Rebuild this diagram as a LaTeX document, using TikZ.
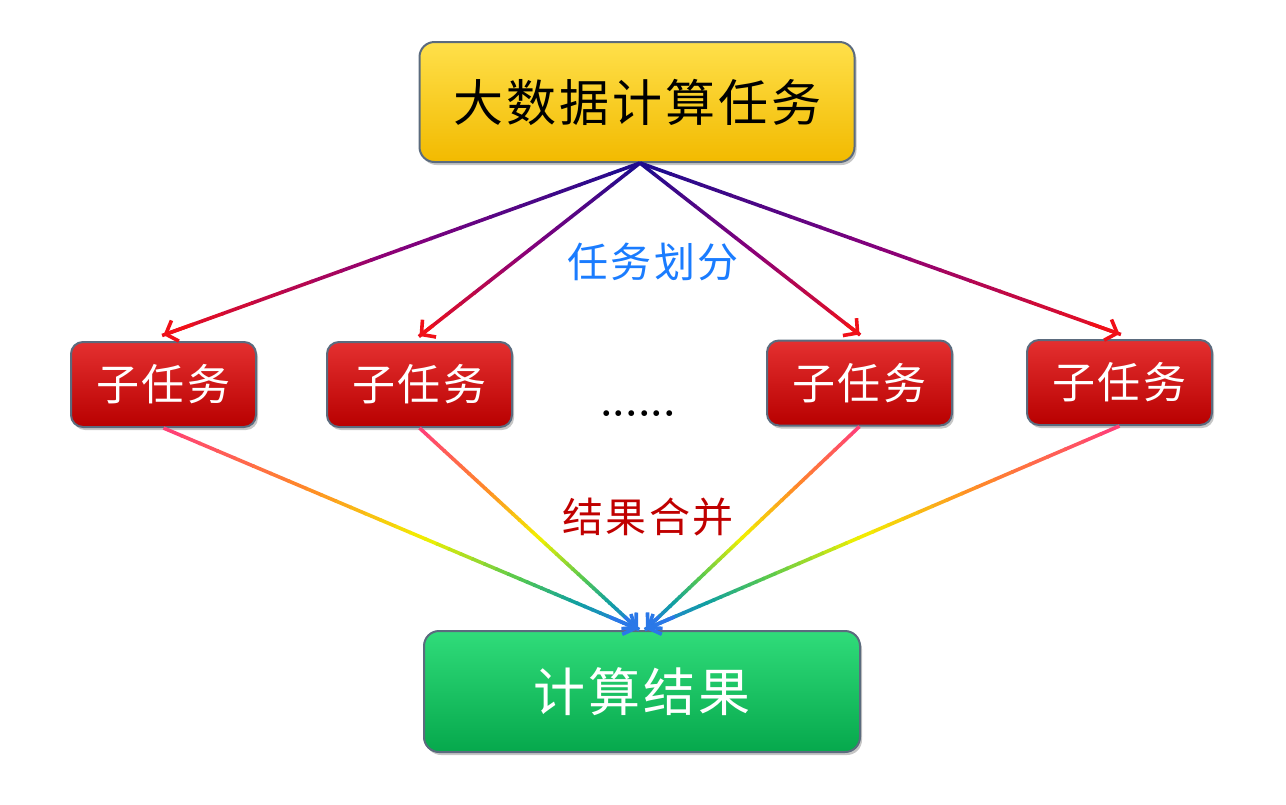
\documentclass[tikz,border=0pt]{standalone}
\usepackage{fontspec}
\newfontfamily\cjk{Noto Sans CJK SC}[LetterSpace=6]
\usetikzlibrary{calc,shadows,arrows.meta}
\definecolor{bordc}{HTML}{5B6B7E}
\definecolor{yelA}{HTML}{FFE04A}
\definecolor{yelB}{HTML}{FFCC00}
\definecolor{yelC}{HTML}{F2BA00}
\definecolor{redA}{HTML}{E43030}
\definecolor{redB}{HTML}{CC0000}
\definecolor{redC}{HTML}{B80000}
\definecolor{grnA}{HTML}{30DC7A}
\definecolor{grnB}{HTML}{08BB55}
\definecolor{grnC}{HTML}{06A84C}
\definecolor{navy}{HTML}{1A0C8E}
\definecolor{purp}{HTML}{86007C}
\definecolor{rred}{HTML}{F01018}
\definecolor{cpink}{HTML}{FF3C7A}
\definecolor{corng}{HTML}{FF8A28}
\definecolor{cyell}{HTML}{F2F000}
\definecolor{cgrn}{HTML}{55C850}
\definecolor{cteal}{HTML}{10A0A0}
\definecolor{cblue}{HTML}{2A78E8}
\definecolor{lblue}{HTML}{1A7CFF}
\definecolor{lred}{HTML}{C00000}
\newcommand\gradarrow[4]{%
  \foreach \a/\b/\ca/\cb in {#3}{%
    \foreach \i in {0,...,7}{%
      \pgfmathsetmacro\pa{\a+(\b-\a)*\i/8}%
      \pgfmathsetmacro\pb{\a+(\b-\a)*(\i+1)/8+0.003}%
      \pgfmathtruncatemacro\mx{100-\i*100/8-6}%
      \draw[gradseg, color=\ca!\mx!\cb] ($(#1)!\pa!(#2)$) -- ($(#1)!\pb!(#2)$);
    }%
  }%
  \draw[tipline, color=#4] ($(#1)!0.94!(#2)$) -- (#2);
}
\begin{document}
\begin{tikzpicture}[x=1pt,y=-1pt,
  box/.style={draw=bordc, line width=2pt, rounded corners=15pt,
    drop shadow={shadow xshift=2pt, shadow yshift=-3pt, opacity=0.45}},
  topbox/.style={box, top color=yelA, middle color=yelB, bottom color=yelC,
    minimum width=435pt, minimum height=120pt, font=\cjk\fontsize{50}{54}\selectfont, text=black},
  subbox/.style={box, rounded corners=12pt, top color=redA, middle color=redB, bottom color=redC,
    minimum width=185pt, minimum height=85pt, font=\cjk\fontsize{43}{46}\selectfont, text=white},
  resbox/.style={box, top color=grnA, middle color=grnB, bottom color=grnC,
    minimum width=436pt, minimum height=121pt, font=\cjk\fontsize{52}{56}\selectfont, text=white},
  lbl/.style={font=\cjk\fontsize{41}{44}\selectfont},
  gradseg/.style={line width=3.6pt},
  tipline/.style={line width=3.6pt, -{Straight Barb[length=10pt,width=22pt]}}
]
\useasboundingbox (0,0) rectangle (1286,804);

\node[topbox] (top) at (637,102) {大数据计算任务};
\node[subbox] (s1) at (163.5,384.5) {子任务};
\node[subbox] (s2) at (419.5,384.5) {子任务};
\node[subbox] (s3) at (859.5,383) {子任务};
\node[subbox] (s4) at (1119.5,382.5) {子任务};
\node[resbox] (res) at (642,691.5) {计算结果};

\node[lbl, text=lblue] (lab1) at (653,262) {任务划分};
\node[lbl, text=lred] (lab2) at (648,517) {结果合并};
\node[font=\bfseries\fontsize{40}{42}\selectfont, anchor=base, inner sep=0pt] (dots) at (638,416) {......};

\coordinate (st) at ([xshift=3pt]top.south);
\coordinate (e1) at ([yshift=6pt]s1.north);
\coordinate (e2) at ([yshift=5pt]s2.north);
\coordinate (e3) at ([yshift=5pt]s3.north);
\coordinate (e4) at ([yshift=5pt]s4.north);
\coordinate (rl) at ([xshift=-4pt,yshift=1pt]res.north);
\coordinate (rr) at ([xshift=4pt,yshift=1pt]res.north);

\foreach \e in {e1,e2,e3,e4}{
  \gradarrow{st}{\e}{0/0.5/navy/purp, 0.5/1/purp/rred}{rred}
}
\gradarrow{s1.south}{rl}{0/0.3/cpink/corng, 0.3/0.55/corng/cyell, 0.55/0.75/cyell/cgrn, 0.75/0.87/cgrn/cteal, 0.87/1/cteal/cblue}{cblue}
\gradarrow{s2.south}{rl}{0/0.3/cpink/corng, 0.3/0.55/corng/cyell, 0.55/0.75/cyell/cgrn, 0.75/0.87/cgrn/cteal, 0.87/1/cteal/cblue}{cblue}
\gradarrow{s3.south}{rr}{0/0.3/cpink/corng, 0.3/0.55/corng/cyell, 0.55/0.75/cyell/cgrn, 0.75/0.87/cgrn/cteal, 0.87/1/cteal/cblue}{cblue}
\gradarrow{s4.south}{rr}{0/0.3/cpink/corng, 0.3/0.55/corng/cyell, 0.55/0.75/cyell/cgrn, 0.75/0.87/cgrn/cteal, 0.87/1/cteal/cblue}{cblue}
\end{tikzpicture}
\end{document}
